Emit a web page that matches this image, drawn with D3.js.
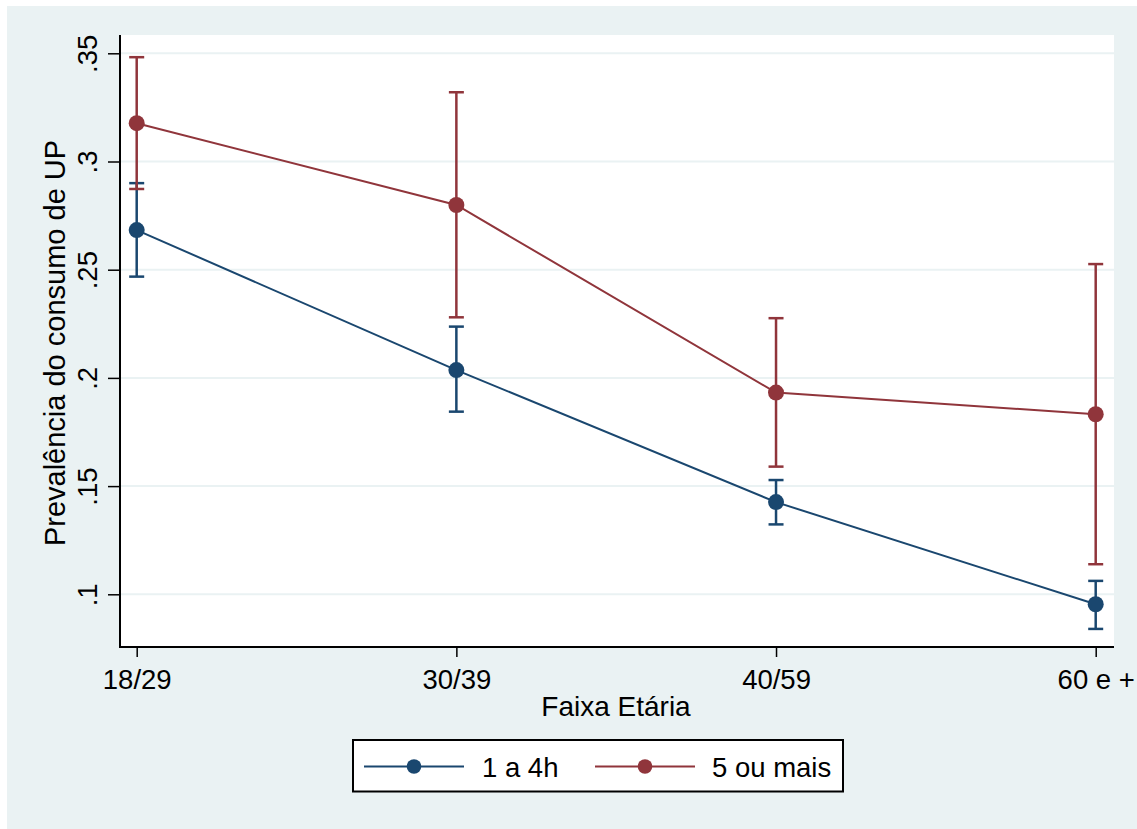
<!DOCTYPE html>
<html>
<head>
<meta charset="utf-8">
<script src="https://cdn.jsdelivr.net/npm/d3@7"></script>
<style>
  html, body { margin: 0; padding: 0; background: #ffffff; }
  svg { display: block; font-family: "Liberation Sans", Arial, sans-serif; }
</style>
</head>
<body>
<svg id="chart" width="1137" height="829"></svg>
<script>
// ---- data ----
const categories = ["18/29", "30/39", "40/59", "60 e +"];
const seriesNames = ["1 a 4h", "5 ou mais"];
const prev1a4 = [0.2683, 0.2036, 0.1426, 0.0954];
const lo1a4   = [0.2468, 0.1844, 0.1323, 0.0840];
const hi1a4   = [0.2900, 0.2237, 0.1528, 0.1062];
const prev5   = [0.3177, 0.2799, 0.1932, 0.1832];
const lo5     = [0.2873, 0.2280, 0.1590, 0.1139];
const hi5     = [0.3482, 0.3320, 0.2276, 0.2526];
const yTicks  = [0.1, 0.15, 0.2, 0.25, 0.3, 0.35];
const yTickLabels = [".1", ".15", ".2", ".25", ".3", ".35"];
const xTitle = "Faixa Etária";
const yTitle = "Prevalência do consumo de UP";
const colors = ["#1a476f", "#90353b"];

const series = [
  { name: seriesNames[0], color: colors[0], vals: prev1a4, lo: lo1a4, hi: hi1a4 },
  { name: seriesNames[1], color: colors[1], vals: prev5, lo: lo5, hi: hi5 }
];

const svg = d3.select("#chart");
const W = 1137, H = 829;
const plot = { left: 120, right: 1114, top: 35, bottom: 647 };

// outer background
svg.append("rect").attr("x", 7).attr("y", 6).attr("width", W - 7).attr("height", H - 6)
  .attr("fill", "#eaf2f3");
// plot region
svg.append("rect").attr("x", plot.left).attr("y", plot.top)
  .attr("width", plot.right - plot.left).attr("height", plot.bottom - plot.top)
  .attr("fill", "#ffffff");

const x = d3.scalePoint().domain(categories).range([136.7, 1095.7]);
const y = d3.scaleLinear().domain([0.1, 0.35]).range([594.3, 53.3]);

// gridlines
svg.append("g").selectAll("line").data(yTicks).join("line")
  .attr("x1", plot.left).attr("x2", plot.right)
  .attr("y1", d => y(d)).attr("y2", d => y(d))
  .attr("stroke", "#eaf2f3").attr("stroke-width", 2);

const FS = 27.5;

// y axis
const yAxis = d3.axisLeft(y).tickValues(yTicks)
  .tickFormat((d, i) => yTickLabels[i]).tickSize(12).tickSizeOuter(0);
const gy = svg.append("g").attr("transform", `translate(${plot.left},0)`).call(yAxis);
gy.select(".domain").remove();
gy.selectAll(".tick line").attr("stroke", "#000").attr("stroke-width", 1.5);
gy.selectAll(".tick text")
  .attr("font-size", FS).attr("fill", "#000")
  .attr("text-anchor", "middle")
  .attr("x", 0).attr("y", 0).attr("dy", 0)
  .attr("transform", "translate(-23,0) rotate(-90)");

svg.append("line").attr("x1", plot.left).attr("x2", plot.left)
  .attr("y1", plot.top).attr("y2", plot.bottom + 1)
  .attr("stroke", "#000").attr("stroke-width", 2);

// x axis
const xAxis = d3.axisBottom(x).tickSize(10).tickSizeOuter(0).tickPadding(0);
const gx = svg.append("g").attr("transform", `translate(0,${plot.bottom})`).call(xAxis);
gx.select(".domain").remove();
gx.selectAll(".tick line").attr("stroke", "#000").attr("stroke-width", 1.5);
gx.selectAll(".tick text").attr("font-size", FS).attr("fill", "#000")
  .attr("y", 42).attr("dy", 0);
svg.append("line").attr("x1", plot.left - 1).attr("x2", plot.right)
  .attr("y1", plot.bottom).attr("y2", plot.bottom)
  .attr("stroke", "#000").attr("stroke-width", 2);

// axis titles
svg.append("text").attr("x", 616).attr("y", 716)
  .attr("text-anchor", "middle").attr("font-size", 28).attr("fill", "#000").text(xTitle);
svg.append("text")
  .attr("transform", "translate(65,343) rotate(-90)")
  .attr("text-anchor", "middle").attr("font-size", 29).attr("fill", "#000").text(yTitle);

// series: lines, error bars, markers
const line = d3.line().x((d, i) => x(categories[i])).y(d => y(d));
series.forEach(s => {
  const g = svg.append("g");
  g.append("path").attr("d", line(s.vals)).attr("fill", "none")
    .attr("stroke", s.color).attr("stroke-width", 2);
  const eb = g.selectAll(".eb").data(categories).join("g");
  eb.append("line")
    .attr("x1", c => x(c)).attr("x2", c => x(c))
    .attr("y1", (c, i) => y(s.lo[i])).attr("y2", (c, i) => y(s.hi[i]))
    .attr("stroke", s.color).attr("stroke-width", 2.5);
  eb.append("line")
    .attr("x1", c => x(c) - 7.5).attr("x2", c => x(c) + 7.5)
    .attr("y1", (c, i) => y(s.lo[i])).attr("y2", (c, i) => y(s.lo[i]))
    .attr("stroke", s.color).attr("stroke-width", 2.5);
  eb.append("line")
    .attr("x1", c => x(c) - 7.5).attr("x2", c => x(c) + 7.5)
    .attr("y1", (c, i) => y(s.hi[i])).attr("y2", (c, i) => y(s.hi[i]))
    .attr("stroke", s.color).attr("stroke-width", 2.5);
  g.selectAll("circle").data(s.vals).join("circle")
    .attr("cx", (d, i) => x(categories[i])).attr("cy", d => y(d))
    .attr("r", 8).attr("fill", s.color);
});

// legend
const lg = svg.append("g");
lg.append("rect").attr("x", 353).attr("y", 740).attr("width", 490).attr("height", 51.5)
  .attr("fill", "#fff").attr("stroke", "#000").attr("stroke-width", 2);
const legItems = [
  { s: series[0], x0: 364, tx: 482 },
  { s: series[1], x0: 595, tx: 712 }
];
legItems.forEach(it => {
  lg.append("line").attr("x1", it.x0).attr("x2", it.x0 + 100)
    .attr("y1", 766.5).attr("y2", 766.5)
    .attr("stroke", it.s.color).attr("stroke-width", 2);
  lg.append("circle").attr("cx", it.x0 + 50).attr("cy", 766.5).attr("r", 7.3)
    .attr("fill", it.s.color);
  lg.append("text").attr("x", it.tx).attr("y", 777).attr("font-size", FS)
    .attr("fill", "#000").text(it.s.name);
});
</script>
</body>
</html>
